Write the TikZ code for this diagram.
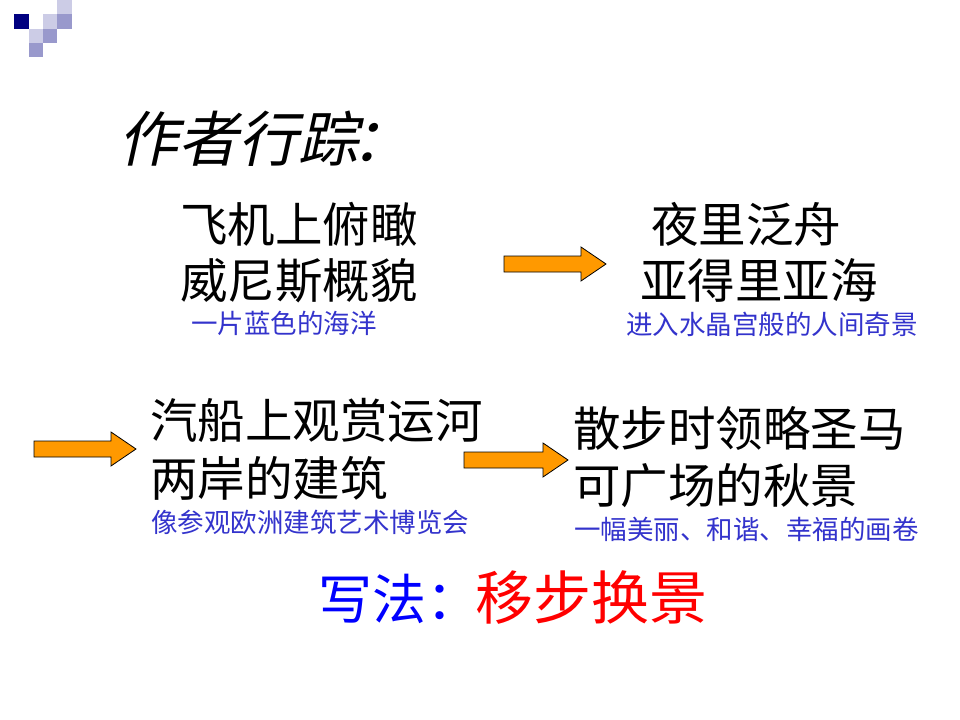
\documentclass[tikz,border=0pt]{standalone}
\usepackage{fontspec}
\newfontfamily\cjk{Noto Sans CJK SC}
\newfontfamily\cjkslant[FakeSlant=0.22]{Noto Sans CJK SC}
\definecolor{navybox}{RGB}{0,0,128}
\definecolor{lightbox}{RGB}{204,204,230}
\definecolor{midbox}{RGB}{153,153,204}
\definecolor{notecol}{RGB}{51,51,204}
\definecolor{arrowfill}{RGB}{255,153,0}
\tikzset{
  titletext/.style={anchor=base west, inner sep=0pt, font={\cjkslant\fontsize{60bp}{64bp}\selectfont}},
  bigline/.style={anchor=base west, inner sep=0pt, font={\cjk\fontsize{47.5bp}{50bp}\selectfont}},
  noteline/.style={anchor=base west, inner sep=0pt, text=notecol, font={\cjk\fontsize{26.5bp}{28bp}\selectfont}},
  blockarrow/.style={fill=arrowfill, draw=black, line width=0.8pt, line join=miter}
}
\begin{document}
\begin{tikzpicture}[x=1bp, y=-1bp, line join=round]
	\useasboundingbox[fill=white] (0,0) rectangle (960,720);
	% corner squares
	\foreach \c/\r/\col in {1/1/navybox, 4/0/lightbox, 3/1/lightbox, 2/2/lightbox, 4/1/midbox, 3/2/midbox, 2/3/midbox}
	\fill[\col] (\c*14.3,\r*14.3) rectangle ++(14.3,14.3);
	\node[titletext] (title) at (118,162) {作者行踪};
	\node[titletext] (titlecolon) at ([xshift=-7bp]title.base east) {：};
	% four stops
	\node[bigline] (fly1) at (180,242) {飞机上俯瞰};
	\node[bigline] (fly2) at (180,298) {威尼斯概貌};
	\node[noteline] (flynote) at (191,333) {一片蓝色的海洋};
	\node[bigline] (night1) at (651,242) {夜里泛舟};
	\node[bigline] (night2) at (640,298) {亚得里亚海};
	\node[noteline] (nightnote) at (626,334) {进入水晶宫般的人间奇景};
	\node[bigline] (boat1) at (150,438) {汽船上观赏运河};
	\node[bigline] (boat2) at (150,496) {两岸的建筑};
	\node[noteline] (boatnote) at (151,532) {像参观欧洲建筑艺术博览会};
	\node[bigline] (walk1) at (573,446) {散步时领略圣马};
	\node[bigline] (walk2) at (573,503) {可广场的秋景};
	\node[noteline] (walknote) at (574,539) {一幅美丽、和谐、幸福的画卷};
	% block arrows
	\foreach \xa/\xb/\ym in {504/606/264, 34/136/449, 464/568/460}
	\draw[blockarrow] (\xa,\ym-8) -- (\xb-25,\ym-8) -- (\xb-25,\ym-17) -- (\xb,\ym)
		-- (\xb-25,\ym+17) -- (\xb-25,\ym+8) -- (\xa,\ym+8) -- cycle;
	\node[anchor=base west, inner sep=0pt, text=blue, font={\cjk\fontsize{54bp}{56bp}\selectfont}] (method) at (318,619) {写法：};
	\node[anchor=base west, inner sep=0pt, text=red, font={\cjk\fontsize{58bp}{60bp}\selectfont}] (methodval) at (475,619) {移步换景};
\end{tikzpicture}
\end{document}
